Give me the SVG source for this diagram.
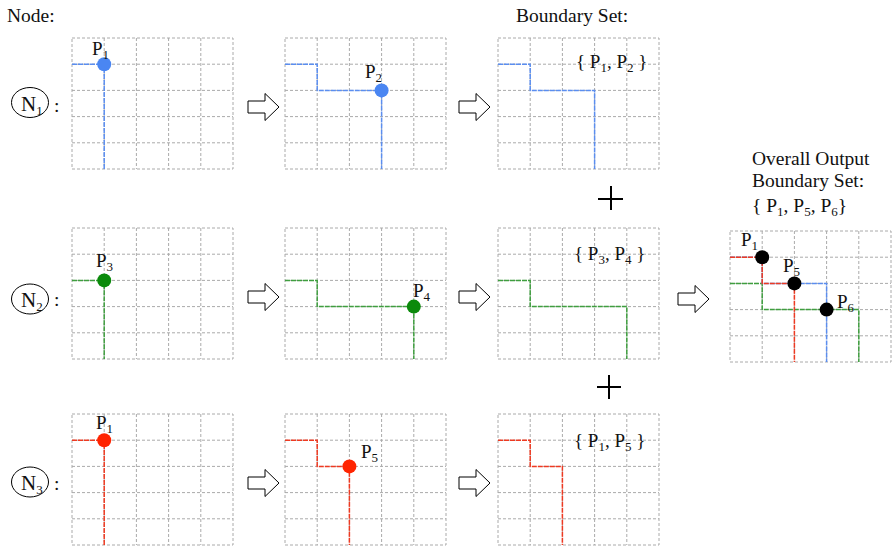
<svg xmlns="http://www.w3.org/2000/svg" xmlns:xlink="http://www.w3.org/1999/xlink" width="892" height="547" viewBox="0 0 892 547">
<style>
text{font-family:"Liberation Serif","Times New Roman",serif;fill:#111}
.t{font-size:19.5px}
.p{font-size:19px}
.s{font-size:13px}
.n{font-size:21px}
.g{stroke:#aaa;stroke-width:1;stroke-dasharray:3 2;fill:none}
.b{stroke:#5b8ef0;stroke-width:1.5;fill:none;stroke-dasharray:5 1}
.gr{stroke:#3f9e3f;stroke-width:1.5;fill:none;stroke-dasharray:5 1}
.r{stroke:#ee3a22;stroke-width:1.5;fill:none;stroke-dasharray:5 1}
.arr{fill:#fff;stroke:#000;stroke-width:1}
.plus{stroke:#000;stroke-width:2;fill:none}
.nc{fill:#fff;stroke:#000;stroke-width:1}
</style>
<defs>
<g id="grid">
<rect class="g" x="0" y="0" width="161" height="131"/>
<path class="g" d="M32.2,0V131M64.4,0V131M96.6,0V131M128.8,0V131M0,26.2H161M0,52.4H161M0,78.6H161M0,104.8H161"/>
</g>
<path id="arrow" class="arr" d="M0,-6H17V-13.5L31,0L17,13.5V6H0Z"/>
</defs>
<rect width="892" height="547" fill="#fff"/>
<text class="t" x="7" y="22">Node:</text>
<text class="t" x="516" y="22">Boundary Set:</text>

<g id="label-n1">
<ellipse class="nc" cx="30" cy="102.5" rx="18.5" ry="15"/>
<text class="n" x="21" y="111">N<tspan class="s" dy="4">1</tspan></text>
<text class="t" x="54" y="112">:</text>
</g>
<g id="label-n2">
<ellipse class="nc" cx="30" cy="299" rx="18.5" ry="15"/>
<text class="n" x="21" y="307">N<tspan class="s" dy="4">2</tspan></text>
<text class="t" x="54" y="306">:</text>
</g>
<g id="label-n3">
<ellipse class="nc" cx="30" cy="482" rx="18.5" ry="15"/>
<text class="n" x="21" y="490">N<tspan class="s" dy="4">3</tspan></text>
<text class="t" x="54" y="490">:</text>
</g>

<g id="n1-step1" transform="translate(72,38)">
<use xlink:href="#grid"/>
<path class="b" d="M0,26.2H32.2V131"/>
<circle cx="32.2" cy="26.2" r="7" fill="#4a86f2"/>
<text class="p" x="20" y="17">P<tspan class="s" dy="4">1</tspan></text>
</g>
<g id="n1-step2" transform="translate(285,38)">
<use xlink:href="#grid"/>
<path class="b" d="M0,26.2H32.2V52.4H96.6V131"/>
<circle cx="96.6" cy="52.4" r="7" fill="#4a86f2"/>
<text class="p" x="80" y="40">P<tspan class="s" dy="4">2</tspan></text>
</g>
<g id="n1-result" transform="translate(498,38)">
<use xlink:href="#grid"/>
<path class="b" d="M0,26.2H32.2V52.4H96.6V131"/>
<text class="p" x="78" y="30">{ P<tspan class="s" dy="4">1</tspan><tspan dy="-4">, P</tspan><tspan class="s" dy="4">2</tspan><tspan dy="-4"> }</tspan></text>
</g>

<g id="n2-step1" transform="translate(72,228)">
<use xlink:href="#grid"/>
<path class="gr" d="M0,52.4H32.2V131"/>
<circle cx="32.2" cy="52.4" r="7" fill="#0b8a0b"/>
<text class="p" x="24" y="39">P<tspan class="s" dy="4">3</tspan></text>
</g>
<g id="n2-step2" transform="translate(285,228)">
<use xlink:href="#grid"/>
<path class="gr" d="M0,52.4H32.2V78.6H128.8V131"/>
<circle cx="128.8" cy="78.6" r="7" fill="#0b8a0b"/>
<text class="p" x="128" y="69">P<tspan class="s" dy="4">4</tspan></text>
</g>
<g id="n2-result" transform="translate(498,228)">
<use xlink:href="#grid"/>
<path class="gr" d="M0,52.4H32.2V78.6H128.8V131"/>
<text class="p" x="76" y="32">{ P<tspan class="s" dy="4">3</tspan><tspan dy="-4">, P</tspan><tspan class="s" dy="4">4</tspan><tspan dy="-4"> }</tspan></text>
</g>

<g id="n3-step1" transform="translate(72,414)">
<use xlink:href="#grid"/>
<path class="r" d="M0,26.2H32.2V131"/>
<circle cx="32.2" cy="26.2" r="7" fill="#ff2400"/>
<text class="p" x="24" y="15">P<tspan class="s" dy="4">1</tspan></text>
</g>
<g id="n3-step2" transform="translate(285,414)">
<use xlink:href="#grid"/>
<path class="r" d="M0,26.2H32.2V52.4H64.4V131"/>
<circle cx="64.4" cy="52.4" r="7" fill="#ff2400"/>
<text class="p" x="76" y="44">P<tspan class="s" dy="4">5</tspan></text>
</g>
<g id="n3-result" transform="translate(498,414)">
<use xlink:href="#grid"/>
<path class="r" d="M0,26.2H32.2V52.4H64.4V131"/>
<text class="p" x="76" y="33">{ P<tspan class="s" dy="4">1</tspan><tspan dy="-4">, P</tspan><tspan class="s" dy="4">5</tspan><tspan dy="-4"> }</tspan></text>
</g>

<g id="overall">
<text class="t" x="752" y="165">Overall Output</text>
<text class="t" x="752" y="187">Boundary Set:</text>
<text class="t" x="752" y="212">{ P<tspan class="s" dy="4">1</tspan><tspan dy="-4">, P</tspan><tspan class="s" dy="4">5</tspan><tspan dy="-4">, P</tspan><tspan class="s" dy="4">6</tspan><tspan dy="-4">}</tspan></text>
<g transform="translate(730,231)">
<use xlink:href="#grid"/>
<path class="gr" d="M0,52.4H32.2V78.6H128.8V131"/>
<path class="b" d="M0,26.2H32.2V52.4H96.6V131"/>
<path class="r" d="M0,26.2H32.2V52.4H64.4V131"/>
<circle cx="32.2" cy="26.2" r="7" fill="#000"/>
<circle cx="64.4" cy="52.4" r="7" fill="#000"/>
<circle cx="96.6" cy="78.6" r="7" fill="#000"/>
<text class="p" x="11" y="15">P<tspan class="s" dy="4">1</tspan></text>
<text class="p" x="53" y="41">P<tspan class="s" dy="4">5</tspan></text>
<text class="p" x="107" y="77">P<tspan class="s" dy="4">6</tspan></text>
</g>
</g>

<g id="connectors">
<use xlink:href="#arrow" transform="translate(248,107)"/>
<use xlink:href="#arrow" transform="translate(459,107)"/>
<use xlink:href="#arrow" transform="translate(248,297)"/>
<use xlink:href="#arrow" transform="translate(459,297)"/>
<use xlink:href="#arrow" transform="translate(248,483)"/>
<use xlink:href="#arrow" transform="translate(459,483)"/>
<use xlink:href="#arrow" transform="translate(678,299)"/>
<path class="plus" d="M598,199H623M611,186V210"/>
<path class="plus" d="M597,387H621M609,375V399"/>
</g>
</svg>
